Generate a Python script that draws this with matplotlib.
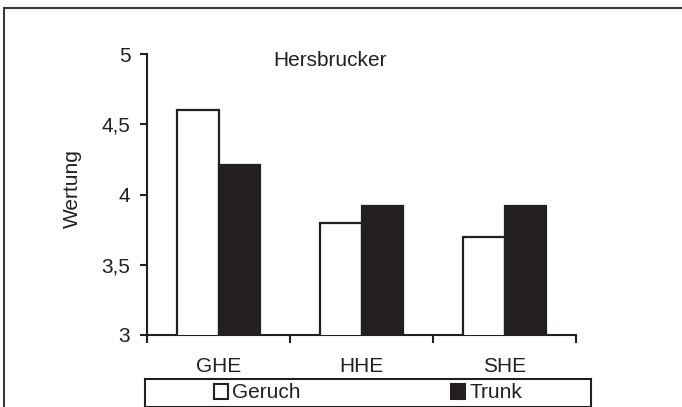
import matplotlib
matplotlib.use("Agg")
import matplotlib.pyplot as plt
from matplotlib.patches import Rectangle, Patch

plt.rcParams['font.family'] = ['Liberation Sans', 'DejaVu Sans']

# Hersbrucker sensory ratings
sorten = ["GHE", "HHE", "SHE"]
geruch = [4.6, 3.8, 3.7]
trunk = [4.21, 3.92, 3.92]
y_ticks = [3, 3.5, 4, 4.5, 5]
y_labels = ["3", "3,5", "4", "4,5", "5"]

ink = "#231f20"
W, H = 682, 407
fs = 15

fig = plt.figure(figsize=(W / 100, H / 100), dpi=100)

# outer frame of the figure (only top and left edges fall inside the image)
fig.patches.append(Rectangle((4 / W, -0.05), 1.2, 1 - 8 / H + 0.05,
                             transform=fig.transFigure, fill=False,
                             edgecolor="#3a3a3a", lw=1.5))

ax = fig.add_axes([147 / W, (H - 335) / H, 429 / W, 281 / H])

centers = [i + 0.5 for i in range(len(sorten))]
bw = 0.29
ax.bar([c - bw / 2 for c in centers], geruch, width=bw, bottom=0,
       color="white", edgecolor=ink, linewidth=1.6, zorder=3)
ax.bar([c + bw / 2 for c in centers], trunk, width=bw, bottom=0,
       color=ink, edgecolor=ink, linewidth=1.6, zorder=3)

ax.set_xlim(0, len(sorten))
ax.set_ylim(3, 5)

for side in ("top", "right"):
    ax.spines[side].set_visible(False)
for side in ("left", "bottom"):
    ax.spines[side].set_linewidth(1.5)
    ax.spines[side].set_color(ink)

ax.set_yticks(y_ticks)
ax.set_yticklabels(y_labels)
ax.tick_params(axis="y", direction="out", length=5, width=1.5, pad=7,
               labelsize=fs, colors=ink)

# group boundaries get the tick marks, names sit between them
ax.set_xticks(range(len(sorten) + 1))
ax.set_xticklabels([])
ax.set_xticks(centers, minor=True)
ax.set_xticklabels(sorten, minor=True)
ax.tick_params(axis="x", which="major", direction="out", length=6, width=1.5,
               colors=ink)
ax.tick_params(axis="x", which="minor", length=0, pad=16, labelsize=fs,
               labelcolor=ink)

ax.set_ylabel("Wertung", fontsize=fs, color=ink)
ax.yaxis.set_label_coords(-0.152, 0.52)

fig.text(330 / W, 1 - 60 / H, "Hersbrucker", ha="center", va="center",
         fontsize=fs, color=ink)

# legend box below the axis
fig.patches.append(Rectangle((145 / W, 1 - 407 / H), 446 / W, 28 / H,
                             transform=fig.transFigure, fill=False,
                             edgecolor=ink, lw=1.5))
handles = [Patch(facecolor="white", edgecolor=ink, linewidth=1.5, label="Geruch"),
           Patch(facecolor=ink, edgecolor=ink, linewidth=1.5, label="Trunk")]
fig.legend(handles=handles, loc="center", ncol=2, frameon=False,
           bbox_to_anchor=(368 / W, 1 - 393 / H), fontsize=fs,
           handlelength=0.7, handleheight=0.7, handletextpad=0.2,
           columnspacing=7.2, labelcolor=ink, borderpad=0)

fig.savefig("out.png", dpi=100)
